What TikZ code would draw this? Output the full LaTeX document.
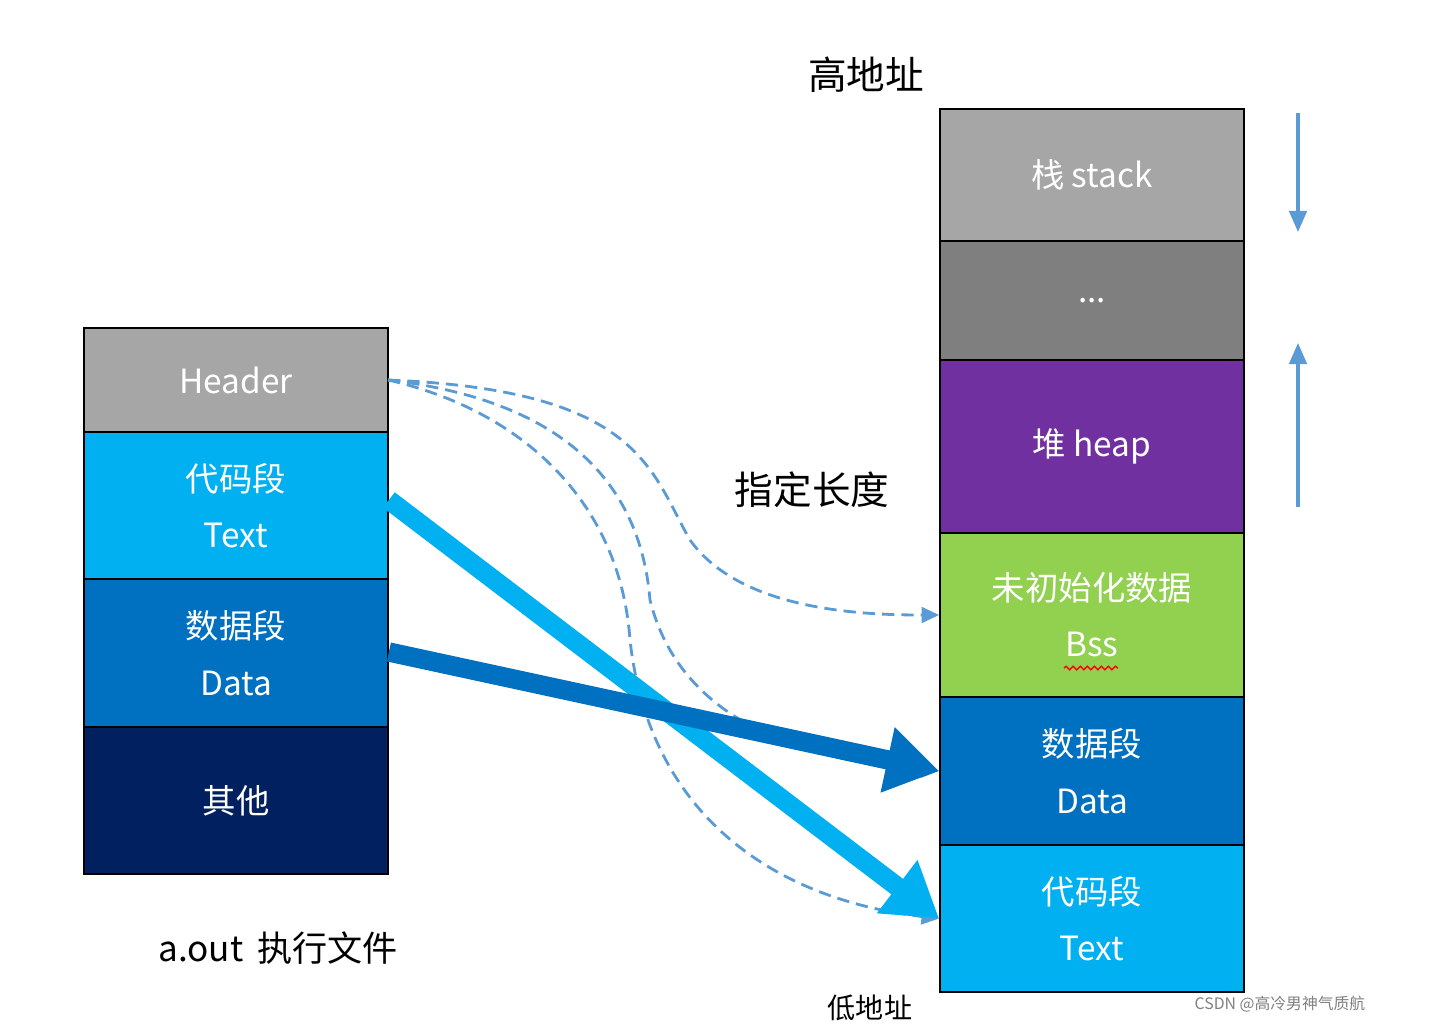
\documentclass[tikz,border=0pt]{standalone}
\usepackage{fontspec}
\setmainfont{Noto Sans CJK SC}
\usetikzlibrary{arrows.meta, positioning, decorations.pathmorphing}

\definecolor{segGray}{HTML}{A6A6A6}
\definecolor{segDark}{HTML}{7F7F7F}
\definecolor{segSky}{HTML}{00B0F0}
\definecolor{segBlue}{HTML}{0070C0}
\definecolor{segNavy}{HTML}{002060}
\definecolor{segPurple}{HTML}{7030A0}
\definecolor{segGreen}{HTML}{92D050}
\definecolor{lineBlue}{HTML}{5B9BD5}

\tikzset{
    seg/.style={draw=black, line width=1pt, minimum width=304*0.02cm, text=white,
        align=center, font=\fontsize{19}{32}\selectfont, inner sep=0pt},
    lbl/.style={font=\fontsize{22}{26}\selectfont, text=black},
    dashlink/.style={draw=lineBlue, dashed, line width=1.6pt, dash pattern=on 7pt off 4pt},
}

\begin{document}
\begin{tikzpicture}[x=0.02cm, y=-0.02cm]

    \useasboundingbox (0,0) rectangle (1430,1024);

    % left column
    \node [seg, fill=segGray, minimum height=104*0.02cm] (LH) at (236,380) {Header};
    \node [seg, fill=segSky, minimum height=147*0.02cm] (LT) at (236,505.5) {代码段\\Text};
    \node [seg, fill=segBlue, minimum height=148*0.02cm] (LD) at (236,653) {数据段\\Data};
    \node [seg, fill=segNavy, minimum height=147*0.02cm] (LO) at (236,800.5) {其他};

    % right column
    \node [seg, fill=segGray, minimum height=132*0.02cm] (RS) at (1092,175) {栈 stack};
    \node [seg, fill=segDark, minimum height=119*0.02cm] (RE) at (1092,300.5) {...};
    \node [seg, fill=segPurple, minimum height=173*0.02cm] (RH) at (1092,446.5) {堆 heap};
    \node [seg, fill=segGreen, minimum height=164*0.02cm] (RB) at (1092,615) {未初始化数据\\Bss};
    \node [seg, fill=segBlue, minimum height=148*0.02cm] (RD) at (1092,771) {数据段\\Data};
    \node [seg, fill=segSky, minimum height=147*0.02cm] (RT) at (1092,918.5) {代码段\\Text};

    \draw [red, line width=0.8pt, decorate, decoration={snake, amplitude=1pt, segment length=4pt}]
        (1064,668) -- (1118,668);

    % labels
    \node [lbl] (high) at (866,75) {高地址};
    \node [lbl] (len) at (812,490) {指定长度};
    \node [lbl, font=\fontsize{16}{18}\selectfont] (low) at (870,1008) {低地址};
    \node [lbl, font=\fontsize{20}{24}\selectfont] (aout) at (278,948) {a.out\, 执行文件};
    \node [font=\fontsize{9}{10}\selectfont, text=gray] (mark) at (1280,1004) {CSDN @高冷男神气质航};

    % growth arrows
    \coordinate (sTop) at (1298,113);
    \coordinate (sBot) at (1298,232);
    \coordinate (hBot) at (1298,507);
    \coordinate (hTop) at (1298,343);
    \draw [lineBlue, line width=1.8pt, -{Triangle[length=12pt, width=10pt]}] (sTop) -- (sBot);
    \draw [lineBlue, line width=1.8pt, -{Triangle[length=12pt, width=10pt]}] (hBot) -- (hTop);

    % dashed links from header
    \coordinate (hOut) at (388,380);
    \draw [dashlink, -{Triangle[length=10pt, width=9pt]}] (hOut)
        .. controls (640,390) and (650,470) .. (690,540)
        .. controls (740,610) and (860,615) .. (RB.west);
    \draw [dashlink, -{Triangle[length=10pt, width=9pt]}] (hOut)
        .. controls (560,400) and (640,480) .. (650,600)
        .. controls (680,720) and (800,760) .. (RD.west);
    \draw [dashlink, -{Triangle[length=10pt, width=9pt]}] (hOut)
        .. controls (520,410) and (620,500) .. (630,640)
        .. controls (650,820) and (780,900) .. (RT.west);

    % solid links
    \draw [segSky, line width=11pt, -{Triangle[length=30pt, width=36pt]}]
        (LT.east |- 0,500) -- (RT.west);
    \draw [segBlue, line width=11pt, -{Triangle[length=30pt, width=36pt]}]
        (LD.east |- 0,652) -- (RD.west);

\end{tikzpicture}
\end{document}
